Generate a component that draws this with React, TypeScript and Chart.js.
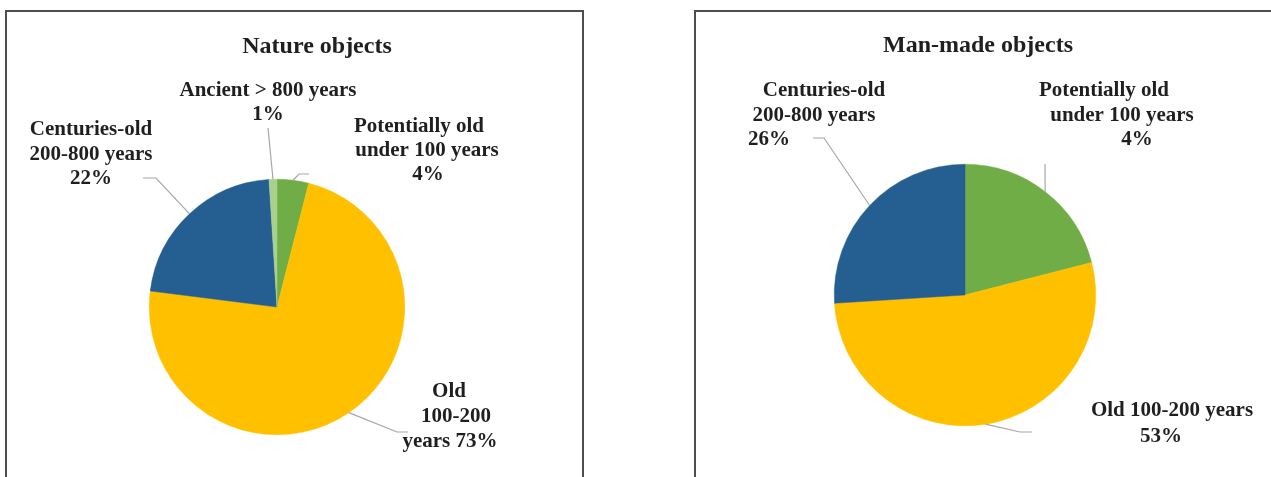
import React, { useEffect, useRef } from "react";
import { Chart, registerables } from "chart.js";

Chart.register(...registerables);

// ---------- Data ----------
const natureTitle = "Nature objects";
const natureCategories = [
  "Potentially old under 100 years",
  "Old 100-200 years",
  "Centuries-old 200-800 years",
  "Ancient > 800 years",
];
const natureValues = [4, 73, 22, 1];
const natureColors = ["#70AD47", "#FFC000", "#255E91", "#A9D18E"];

const manMadeTitle = "Man-made objects";
const manMadeCategories = [
  "Potentially old under 100 years",
  "Old 100-200 years",
  "Centuries-old 200-800 years",
];
const manMadeValues = [21, 53, 26];
const manMadeColors = ["#70AD47", "#FFC000", "#255E91"];

// Label texts (as printed on the reference)
const natureLabelLines = [
  ["Potentially old", "under 100 years", "4%"],
  ["Old", "100-200", "years 73%"],
  ["Centuries-old", "200-800 years", "22%"],
  ["Ancient > 800 years", "1%"],
];
const manMadeLabelLines = [
  ["Potentially old", "under 100 years", "4%"],
  ["Old 100-200 years", "53%"],
  ["Centuries-old", "200-800 years", "26%"],
];

// ---------- Layout (page pixels) ----------
const W = 1271;
const H = 477;
const FONT = '"Liberation Serif", "Times New Roman", serif';
const TEXT_COLOR = "#1f1f1f";
const LEADER_COLOR = "#A6A6A6";

type LabelLayout = {
  lines: { x: number; y: number }[];
  path: [number, number][]; // from label side toward the slice; slice edge point is appended
};

const natureLayout = {
  title: { x: 317, y: 47 },
  padding: { left: 149, right: W - 405, top: 179, bottom: H - 435 },
  labels: [
    {
      lines: [{ x: 419, y: 127 }, { x: 427, y: 151 }, { x: 428, y: 175 }],
      path: [[309, 174], [299, 174]],
    },
    {
      lines: [{ x: 449, y: 392 }, { x: 456, y: 417 }, { x: 450, y: 442 }],
      path: [[408, 432], [397, 432]],
    },
    {
      lines: [{ x: 91, y: 130 }, { x: 91, y: 155 }, { x: 91, y: 179 }],
      path: [[143, 178], [156, 178]],
    },
    {
      lines: [{ x: 268, y: 91 }, { x: 268, y: 115 }],
      path: [[268, 128]],
    },
  ] as LabelLayout[],
};

const manMadeLayout = {
  title: { x: 978, y: 46 },
  padding: { left: 834, right: W - 1096, top: 164, bottom: H - 426 },
  labels: [
    {
      lines: [{ x: 1104, y: 91 }, { x: 1122, y: 116 }, { x: 1137, y: 140 }],
      path: [[1045, 164]],
    },
    {
      lines: [{ x: 1172, y: 411 }, { x: 1161, y: 437 }],
      path: [[1032, 432], [1020, 432]],
    },
    {
      lines: [{ x: 824, y: 91 }, { x: 814, y: 116 }, { x: 769, y: 140 }],
      path: [[813, 138], [824, 138]],
    },
  ] as LabelLayout[],
};

function makeLabelPlugin(title: string, textLines: string[][], layout: typeof natureLayout) {
  return {
    id: "customLabels",
    afterDatasetsDraw(chart: any) {
      const ctx = chart.ctx as CanvasRenderingContext2D;
      const meta = chart.getDatasetMeta(0);
      ctx.save();
      // title
      ctx.fillStyle = TEXT_COLOR;
      ctx.textAlign = "center";
      ctx.textBaseline = "middle";
      ctx.font = `bold 24px ${FONT}`;
      ctx.fillText(title, layout.title.x, layout.title.y);

      // leaders + labels
      layout.labels.forEach((lab, i) => {
        const arc = meta.data[i] as any;
        if (!arc) return;
        const p = arc.getProps(["x", "y", "startAngle", "endAngle", "outerRadius"], true);
        const mid = (p.startAngle + p.endAngle) / 2;
        const ex = p.x + Math.cos(mid) * p.outerRadius;
        const ey = p.y + Math.sin(mid) * p.outerRadius;
        ctx.strokeStyle = LEADER_COLOR;
        ctx.lineWidth = 1.2;
        ctx.beginPath();
        ctx.moveTo(lab.path[0][0], lab.path[0][1]);
        for (let k = 1; k < lab.path.length; k++) ctx.lineTo(lab.path[k][0], lab.path[k][1]);
        ctx.lineTo(ex, ey);
        ctx.stroke();

        ctx.fillStyle = TEXT_COLOR;
        ctx.font = `bold 21px ${FONT}`;
        textLines[i].forEach((t, k) => {
          const pos = lab.lines[k];
          ctx.fillText(t, pos.x, pos.y);
        });
      });
      ctx.restore();
    },
  };
}

function PieCanvas(props: {
  title: string;
  categories: string[];
  values: number[];
  colors: string[];
  labelLines: string[][];
  layout: typeof natureLayout;
}) {
  const ref = useRef<HTMLCanvasElement | null>(null);
  useEffect(() => {
    if (!ref.current) return;
    const chart = new Chart(ref.current, {
      type: "pie",
      data: {
        labels: props.categories,
        datasets: [
          {
            data: props.values,
            backgroundColor: props.colors,
            borderColor: props.colors,
            borderWidth: 0.5,
          },
        ],
      },
      options: {
        responsive: false,
        animation: false,
        devicePixelRatio: 1,
        layout: { padding: props.layout.padding },
        plugins: {
          legend: { display: false },
          title: { display: false },
          tooltip: { enabled: false },
        },
      },
      plugins: [makeLabelPlugin(props.title, props.labelLines, props.layout)],
    });
    return () => chart.destroy();
  }, []);
  return (
    <canvas
      ref={ref}
      width={W}
      height={H}
      style={{ position: "absolute", left: 0, top: 0, width: W, height: H }}
    />
  );
}

export default function App() {
  const boxStyle = (left: number, width: number): React.CSSProperties => ({
    position: "absolute",
    left,
    top: 10,
    width,
    height: H + 20,
    border: "2px solid #4d4d4d",
    boxSizing: "border-box",
    background: "#ffffff",
  });
  return (
    <div
      style={{
        position: "fixed",
        left: 0,
        top: 0,
        width: W,
        height: H,
        overflow: "hidden",
        background: "#ffffff",
      }}
    >
      <div style={boxStyle(5, 579)} />
      <div style={boxStyle(694, 600)} />
      <PieCanvas
        title={natureTitle}
        categories={natureCategories}
        values={natureValues}
        colors={natureColors}
        labelLines={natureLabelLines}
        layout={natureLayout}
      />
      <PieCanvas
        title={manMadeTitle}
        categories={manMadeCategories}
        values={manMadeValues}
        colors={manMadeColors}
        labelLines={manMadeLabelLines}
        layout={manMadeLayout}
      />
    </div>
  );
}
